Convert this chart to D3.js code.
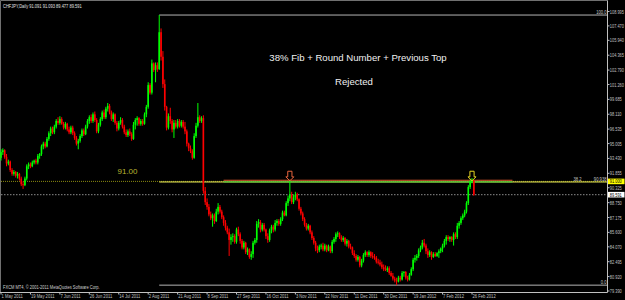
<!DOCTYPE html>
<html>
<head>
<meta charset="utf-8">
<script src="https://cdn.jsdelivr.net/npm/d3@7"></script>
<style>
  html, body { margin: 0; padding: 0; background: #000; }
  svg { display: block; }
  text { font-family: "Liberation Sans", Arial, sans-serif; }
</style>
</head>
<body>
<svg id="chart" width="625" height="300"></svg>
<script>
// CHFJPY daily, May 2011 - Feb 2012 (MT4 screenshot remake)

// ---- data -------------------------------------------------------------------
// one value per daily bar, bar 0 = 1 May 2011, last bar = 27 Feb 2012
const open = [
  93.5, 94.1, 94.3, 93.6, 92.9, 93.1, 92.2, 91.8, 92.0, 91.6,
  91.8, 91.3, 90.7, 90.6, 91.3, 92.6, 92.8, 92.6, 93.0, 93.2,
  93.0, 93.7, 93.9, 94.7, 95.0, 94.7, 95.5, 96.1, 96.6, 96.2,
  96.8, 97.4, 97.2, 97.6, 97.1, 96.7, 97.1, 96.5, 96.2, 96.7,
  96.1, 95.6, 95.0, 95.3, 95.8, 96.4, 96.0, 96.8, 97.4, 97.8,
  97.4, 98.1, 97.5, 96.3, 97.0, 97.6, 98.3, 97.8, 98.7, 99.0,
  98.3, 97.6, 98.1, 97.2, 96.6, 97.2, 97.5, 96.8, 96.2, 95.9,
  96.3, 96.0, 95.5, 97.0, 97.5, 97.7, 97.1, 97.4, 97.1, 98.1,
  98.9, 101.2, 100.4, 103.5, 102.8, 103.3, 102.9, 106.8, 104.2, 101.3,
  98.9, 96.7, 97.9, 97.4, 96.5, 97.2, 96.8, 97.4, 96.9, 97.3,
  96.8, 96.3, 95.0, 94.5, 94.2, 93.5, 95.8, 96.9, 97.8, 97.4,
  97.7, 90.0, 88.8, 88.3, 87.5, 87.1, 87.4, 86.8, 87.8, 88.3,
  87.8, 87.2, 86.6, 86.1, 85.6, 84.8, 85.1, 85.2, 84.6, 85.9,
  85.4, 84.7, 84.0, 84.5, 83.5, 83.8, 83.0, 83.3, 84.5, 84.8,
  86.5, 86.7, 85.9, 86.4, 85.9, 85.2, 84.8, 85.8, 86.2, 85.9,
  86.6, 86.8, 86.5, 87.0, 87.7, 87.4, 88.7, 89.2, 89.6, 88.8,
  89.3, 89.6, 89.1, 88.1, 87.6, 87.0, 86.4, 86.0, 86.3, 85.6,
  85.0, 84.5, 83.9, 83.7, 84.1, 84.2, 83.8, 84.2, 83.7, 84.1,
  83.6, 84.6, 84.9, 85.4, 85.5, 85.1, 84.8, 85.0, 84.4, 84.7,
  84.1, 84.0, 83.4, 83.1, 82.7, 83.0, 82.1, 82.6, 83.2, 83.5,
  83.2, 83.5, 83.1, 83.0, 82.9, 82.5, 82.4, 82.2, 81.9, 81.7,
  81.6, 81.8, 81.3, 81.0, 80.7, 80.5, 80.4, 80.8, 80.6, 81.3,
  81.4, 80.8, 80.6, 81.1, 81.7, 82.7, 82.9, 83.1, 83.7, 84.0,
  84.5, 84.2, 83.6, 83.2, 83.5, 83.0, 83.3, 83.1, 83.4, 83.6,
  83.9, 84.2, 84.7, 85.1, 84.9, 85.1, 84.8, 85.4, 85.1, 86.3,
  86.6, 87.1, 87.4, 87.8, 88.7, 90.4, 91.0, 91.091
];
const high = [
  94.4, 94.5, 94.4, 93.9, 93.3, 93.2, 92.4, 92.2, 92.1, 92.0,
  91.9, 91.5, 91.0, 91.5, 92.8, 93.0, 93.0, 93.2, 93.3, 93.4,
  93.9, 94.0, 94.9, 95.2, 95.2, 95.7, 96.3, 96.8, 96.8, 97.0,
  97.6, 97.8, 97.9, 97.8, 97.3, 97.3, 97.2, 96.8, 96.9, 96.9,
  96.3, 95.8, 95.5, 96.0, 96.6, 96.6, 97.0, 97.6, 98.0, 98.1,
  98.3, 98.4, 97.7, 97.2, 97.8, 98.5, 98.6, 98.9, 99.3, 99.2,
  98.5, 98.3, 98.2, 97.4, 97.4, 97.8, 97.7, 97.0, 96.5, 96.5,
  96.6, 96.2, 97.3, 97.7, 97.9, 97.8, 97.6, 97.6, 98.3, 99.1,
  101.5, 101.4, 103.9, 103.6, 103.6, 103.6, 108.62, 107.2, 104.8, 101.8,
  99.0, 98.2, 98.8, 97.6, 97.5, 97.5, 97.6, 97.6, 97.5, 97.5,
  97.3, 96.5, 95.1, 94.8, 94.4, 96.1, 97.2, 99.3, 98.0, 97.9,
  98.0, 90.4, 89.2, 88.6, 87.8, 87.6, 87.6, 88.1, 88.7, 88.5,
  88.0, 87.4, 86.9, 86.3, 86.0, 85.4, 85.5, 85.4, 86.1, 86.2,
  85.6, 84.9, 84.7, 84.6, 84.0, 83.9, 83.6, 84.7, 85.0, 86.8,
  87.0, 86.9, 86.6, 86.6, 86.0, 85.5, 86.0, 86.4, 86.4, 86.9,
  87.0, 87.0, 87.2, 87.9, 87.9, 88.9, 89.5, 91.15, 89.9, 89.6,
  89.9, 89.8, 89.2, 88.3, 87.8, 87.2, 86.6, 86.5, 86.4, 85.8,
  85.2, 84.7, 84.2, 84.3, 84.4, 84.5, 84.4, 84.3, 84.3, 84.2,
  84.8, 85.1, 85.6, 85.7, 85.6, 85.3, 85.2, 85.1, 84.9, 84.8,
  84.4, 84.1, 83.7, 83.3, 83.2, 83.1, 82.8, 83.4, 83.7, 83.6,
  83.7, 83.6, 83.5, 83.3, 83.1, 82.8, 82.7, 82.5, 82.2, 82.1,
  82.0, 82.0, 81.5, 81.3, 80.9, 80.8, 81.0, 81.0, 81.5, 81.5,
  81.5, 81.0, 81.3, 81.9, 82.9, 83.2, 83.3, 83.9, 84.2, 84.8,
  84.9, 84.4, 83.9, 83.7, 83.6, 83.5, 83.5, 83.5, 83.8, 84.0,
  84.4, 84.9, 85.3, 85.3, 85.2, 85.2, 85.6, 85.6, 86.6, 86.8,
  87.3, 87.6, 88.0, 88.9, 90.6, 91.2, 91.35, 91.093
];
const low = [
  93.2, 93.8, 93.4, 92.6, 92.7, 92.0, 91.6, 91.6, 91.4, 91.3,
  91.1, 90.5, 90.2, 90.5, 91.1, 92.3, 92.4, 92.5, 92.8, 92.8,
  92.8, 93.4, 93.7, 94.4, 94.5, 94.6, 95.3, 95.8, 96.0, 96.0,
  96.6, 97.0, 97.0, 97.0, 96.5, 96.5, 96.3, 96.0, 96.0, 95.9,
  95.4, 94.8, 94.4, 95.1, 95.6, 95.8, 95.9, 96.6, 97.1, 97.2,
  97.2, 97.3, 96.1, 96.1, 96.8, 97.4, 97.6, 97.6, 98.4, 98.1,
  97.4, 97.3, 97.0, 96.3, 96.4, 97.0, 96.6, 96.0, 95.7, 95.7,
  95.8, 95.3, 95.4, 96.5, 96.9, 96.9, 96.9, 96.9, 97.0, 97.8,
  98.7, 100.2, 100.2, 102.6, 101.5, 102.6, 102.8, 103.8, 100.9, 98.5,
  96.4, 96.5, 97.1, 96.2, 95.6, 96.6, 96.6, 96.7, 96.7, 96.6,
  96.0, 94.7, 94.2, 94.0, 93.3, 93.4, 95.6, 96.7, 97.2, 97.2,
  89.7, 88.5, 88.0, 87.3, 86.9, 86.2, 86.5, 86.7, 87.5, 87.6,
  87.0, 86.3, 85.8, 85.4, 83.1, 84.3, 84.6, 84.4, 84.4, 85.2,
  84.4, 83.8, 83.8, 83.3, 83.2, 82.8, 82.7, 82.9, 84.3, 84.5,
  86.1, 85.6, 85.7, 85.7, 84.9, 84.5, 84.6, 85.5, 85.6, 85.7,
  86.3, 86.3, 86.3, 86.8, 87.3, 87.3, 88.4, 88.9, 88.6, 88.6,
  89.0, 88.9, 87.9, 87.4, 86.8, 86.2, 85.8, 85.8, 85.4, 84.8,
  84.3, 83.6, 83.4, 83.5, 83.8, 83.6, 83.6, 83.5, 83.6, 83.4,
  83.4, 84.4, 84.6, 85.1, 84.9, 84.6, 84.6, 84.2, 84.1, 83.9,
  83.8, 83.2, 82.9, 82.5, 82.5, 81.9, 81.9, 82.4, 83.0, 83.0,
  83.0, 82.9, 82.8, 82.7, 82.3, 82.2, 82.0, 81.7, 81.5, 81.5,
  81.4, 81.1, 80.9, 80.5, 80.3, 80.01, 80.3, 80.4, 80.5, 80.9,
  80.6, 80.4, 80.5, 81.0, 81.5, 82.4, 82.6, 82.9, 83.5, 83.8,
  84.0, 83.3, 82.9, 83.0, 82.7, 82.9, 83.0, 83.0, 82.9, 83.4,
  83.5, 84.0, 84.3, 84.7, 84.6, 84.6, 84.2, 84.9, 84.9, 86.0,
  86.4, 86.9, 87.2, 87.6, 88.5, 90.2, 90.8, 89.477
];
const close = [
  94.1, 94.3, 93.6, 92.9, 93.1, 92.2, 91.8, 92.0, 91.6, 91.8,
  91.3, 90.7, 90.6, 91.3, 92.6, 92.8, 92.6, 93.0, 93.2, 93.0,
  93.7, 93.9, 94.7, 95.0, 94.7, 95.5, 96.1, 96.6, 96.2, 96.8,
  97.4, 97.2, 97.6, 97.1, 96.7, 97.1, 96.5, 96.2, 96.7, 96.1,
  95.6, 95.0, 95.3, 95.8, 96.4, 96.0, 96.8, 97.4, 97.8, 97.4,
  98.1, 97.5, 96.3, 97.0, 97.6, 98.3, 97.8, 98.7, 99.0, 98.3,
  97.6, 98.1, 97.2, 96.6, 97.2, 97.5, 96.8, 96.2, 95.9, 96.3,
  96.0, 95.5, 97.0, 97.5, 97.7, 97.1, 97.4, 97.1, 98.1, 98.9,
  101.2, 100.4, 103.5, 102.8, 103.3, 102.9, 106.8, 104.2, 101.3, 98.9,
  96.7, 97.9, 97.4, 96.5, 97.2, 96.8, 97.4, 96.9, 97.3, 96.8,
  96.3, 95.0, 94.5, 94.2, 93.5, 95.8, 96.9, 97.8, 97.4, 97.7,
  90.0, 88.8, 88.3, 87.5, 87.1, 87.4, 86.8, 87.8, 88.3, 87.8,
  87.2, 86.6, 86.1, 85.6, 84.8, 85.1, 85.2, 84.6, 85.9, 85.4,
  84.7, 84.0, 84.5, 83.5, 83.8, 83.0, 83.3, 84.5, 84.8, 86.5,
  86.7, 85.9, 86.4, 85.9, 85.2, 84.8, 85.8, 86.2, 85.9, 86.6,
  86.8, 86.5, 87.0, 87.7, 87.4, 88.7, 89.2, 89.6, 88.8, 89.3,
  89.6, 89.1, 88.1, 87.6, 87.0, 86.4, 86.0, 86.3, 85.6, 85.0,
  84.5, 83.9, 83.7, 84.1, 84.2, 83.8, 84.2, 83.7, 84.1, 83.6,
  84.6, 84.9, 85.4, 85.5, 85.1, 84.8, 85.0, 84.4, 84.7, 84.1,
  84.0, 83.4, 83.1, 82.7, 83.0, 82.1, 82.6, 83.2, 83.5, 83.2,
  83.5, 83.1, 83.0, 82.9, 82.5, 82.4, 82.2, 81.9, 81.7, 81.6,
  81.8, 81.3, 81.0, 80.7, 80.5, 80.4, 80.8, 80.6, 81.3, 81.4,
  80.8, 80.6, 81.1, 81.7, 82.7, 82.9, 83.1, 83.7, 84.0, 84.5,
  84.2, 83.6, 83.2, 83.5, 83.0, 83.3, 83.1, 83.4, 83.6, 83.9,
  84.2, 84.7, 85.1, 84.9, 85.1, 84.8, 85.4, 85.1, 86.3, 86.6,
  87.1, 87.4, 87.8, 88.7, 90.4, 91.0, 91.09, 89.591
];

// date labels, one every 16 bars
const dateLabels = [
  "1 May 2011", "19 May 2011", "7 Jun 2011", "26 Jun 2011", "14 Jul 2011",
  "2 Aug 2011", "21 Aug 2011", "8 Sep 2011", "27 Sep 2011", "16 Oct 2011",
  "3 Nov 2011", "22 Nov 2011", "11 Dec 2011", "30 Dec 2011", "19 Jan 2012",
  "7 Feb 2012", "26 Feb 2012"
];
const dateStep = 16;

const priceTicks = [
  108.995, 107.470, 105.940, 104.365, 102.790, 101.260, 99.685, 98.110, 96.535, 95.005,
  93.430, 91.855, 90.325, 88.750, 87.175, 85.600, 84.070, 82.495, 80.920, 79.390
];

const title = "CHFJPY,Daily  91.091 91.093 89.477 89.591";
const copyright = "FXCM MT4, \u00a9 2001-2011 MetaQuotes Software Corp.";

// drawn objects
const roundNumber = 91.00;
const bid = 89.591;
const fibFromBar = 86;
const fibLevels = [
  { level: 100, price: 108.62, label: "100.0", value: "" },
  { level: 38.2, price: 90.938, label: "38.2", value: "90.938" },
  { level: 0, price: 80.01, label: "0.0", value: "" }
];
const topLines = [
  { price: 91.12, from: 121, to: 278, color: "#e2592f" },
  { price: 90.95, from: 121, to: 278, color: "#4cc43a" }
];
const arrows = [
  { bar: 157, price: 91.08, color: "#e8653e" },
  { bar: 256, price: 91.08, color: "#e6d522" }
];
const notes = ["38% Fib + Round Number + Previous Top", "Rejected"];

// ---- layout -----------------------------------------------------------------
const W = 625, H = 300;
const plotRight = 607.5, plotBottom = 292.5;
const UP = "#00ff00", DOWN = "#ff0000", AXIS = "#c0c0c0";

const svg = d3.select("#chart");
svg.append("rect").attr("width", W).attr("height", H).attr("fill", "#000");

const x = d3.scaleLinear().domain([0, 256]).range([1, 472]);
const y = d3.scaleLinear().domain([79.39, 108.995]).range([291, 11.5]);

// MT4 text is narrow: move x/y into a transform and squeeze horizontally
function squeeze(sel, k) {
  sel.each(function () {
    const t = d3.select(this);
    const tx = +t.attr("x"), ty = +t.attr("y");
    t.attr("x", 0).attr("y", 0)
      .attr("transform", `translate(${tx},${ty}) scale(${k},1)`);
  });
}

// frame
svg.append("path")
  .attr("d", `M0.5,${plotBottom}V0.5H${plotRight}`)
  .attr("fill", "none").attr("stroke", "#707070").attr("stroke-width", 1);

// round-number line (dotted olive) and bid line (dotted grey)
svg.append("line")
  .attr("x1", 1).attr("x2", plotRight)
  .attr("y1", y(roundNumber)).attr("y2", y(roundNumber))
  .attr("stroke", "#8a8a10").attr("stroke-width", 1).attr("stroke-dasharray", "1,1");
svg.append("line")
  .attr("x1", 1).attr("x2", plotRight)
  .attr("y1", y(bid)).attr("y2", y(bid))
  .attr("stroke", "#8c8c8c").attr("stroke-width", 1).attr("stroke-dasharray", "1.5,1.5");

// fibonacci levels
const fib = svg.append("g");
fib.selectAll("line").data(fibLevels).join("line")
  .attr("x1", x(fibFromBar)).attr("x2", plotRight)
  .attr("y1", d => y(d.price)).attr("y2", d => y(d.price))
  .attr("stroke", d => d.level === 38.2 ? "#f2f25a" : "#b4b4b4")
  .attr("stroke-width", 1);

// the two horizontal marker lines at the previous top
svg.append("g").selectAll("line").data(topLines).join("line")
  .attr("x1", d => x(d.from)).attr("x2", d => x(d.to))
  .attr("y1", d => y(d.price)).attr("y2", d => y(d.price))
  .attr("stroke", d => d.color).attr("stroke-width", 1.2);

// candles
const bars = d3.range(close.length).map(i => ({
  i, o: open[i], h: high[i], l: low[i], c: close[i]
}));
const cg = svg.append("g");
cg.selectAll("line").data(bars).join("line")
  .attr("x1", d => x(d.i)).attr("x2", d => x(d.i))
  .attr("y1", d => y(d.h)).attr("y2", d => y(d.l))
  .attr("stroke", d => d.c >= d.o ? UP : DOWN)
  .attr("stroke-width", 1);
cg.selectAll("rect").data(bars).join("rect")
  .attr("x", d => x(d.i) - 0.8)
  .attr("width", 1.6)
  .attr("y", d => y(Math.max(d.o, d.c)))
  .attr("height", d => Math.max(1, Math.abs(y(d.o) - y(d.c))))
  .attr("fill", d => d.c >= d.o ? UP : DOWN);

// hollow down arrows
svg.append("g").selectAll("path").data(arrows).join("path")
  .attr("d", d => {
    const cx = x(d.bar), yb = y(d.price) + 0.2;
    const yh = yb - 4, yt = yb - 9.6;
    return `M${cx - 2.1},${yt}H${cx + 2.1}V${yh}H${cx + 4}L${cx},${yb}L${cx - 4},${yh}H${cx - 2.1}Z`;
  })
  .attr("fill", "none")
  .attr("stroke", d => d.color)
  .attr("stroke-width", 1);

// fib labels
const fl = svg.append("g").attr("font-size", 5.6).attr("fill", "#c8c8c8");
fl.selectAll("text.val").data(fibLevels.filter(d => d.value)).join("text")
  .attr("class", "val")
  .attr("x", plotRight - 1).attr("y", d => y(d.price) - 1.3)
  .attr("text-anchor", "end").text(d => d.value).call(squeeze, 0.74);
fl.selectAll("text.lab").data(fibLevels).join("text")
  .attr("class", "lab")
  .attr("x", d => d.value ? plotRight - 26 : plotRight - 1)
  .attr("y", d => y(d.price) - 1.3)
  .attr("text-anchor", "end").text(d => d.label).call(squeeze, 0.74);

// "91.00" round-number label
svg.append("text")
  .attr("x", 117.5).attr("y", y(roundNumber) - 7.5)
  .attr("font-size", 8).attr("fill", "#b9b431")
  .text(d3.format(".2f")(roundNumber));

// annotation
svg.append("g").selectAll("text").data(notes).join("text")
  .attr("x", (d, i) => i === 0 ? 358 : 354)
  .attr("y", (d, i) => i === 0 ? 60.5 : 85)
  .attr("text-anchor", "middle")
  .attr("font-size", 9.6)
  .attr("fill", "#f0f0f0")
  .text(d => d);

// price axis
const pa = svg.append("g");
pa.append("line")
  .attr("x1", plotRight).attr("x2", plotRight).attr("y1", 0.5).attr("y2", plotBottom)
  .attr("stroke", AXIS).attr("stroke-width", 1);
pa.selectAll("line.tick").data(priceTicks).join("line")
  .attr("class", "tick")
  .attr("x1", plotRight).attr("x2", plotRight + 2)
  .attr("y1", d => y(d)).attr("y2", d => y(d))
  .attr("stroke", AXIS);
pa.selectAll("text").data(priceTicks).join("text")
  .attr("x", plotRight + 2.3).attr("y", d => y(d) + 2)
  .attr("font-size", 5.6).attr("fill", AXIS)
  .text(d => d3.format(".3f")(d))
  .call(squeeze, 0.7);

// highlighted price boxes: round number (yellow) and bid (white)
const marks = [
  { price: roundNumber, bg: "#ffff00" },
  { price: bid, bg: "#ffffff" }
];
const mk = svg.append("g").selectAll("g").data(marks).join("g");
mk.append("rect")
  .attr("x", plotRight + 0.5).attr("width", 16.5)
  .attr("y", d => y(d.price) - 2.8).attr("height", 5.6)
  .attr("fill", d => d.bg);
mk.append("text")
  .attr("x", plotRight + 2.3).attr("y", d => y(d.price) + 2)
  .attr("font-size", 5.6).attr("fill", "#000")
  .text(d => d3.format(".3f")(d.price))
  .call(squeeze, 0.7);

// time axis
const ta = svg.append("g");
ta.append("line")
  .attr("x1", 0).attr("x2", plotRight).attr("y1", plotBottom).attr("y2", plotBottom)
  .attr("stroke", AXIS);
ta.selectAll("line.tick").data(dateLabels).join("line")
  .attr("class", "tick")
  .attr("x1", (d, i) => x(i * dateStep)).attr("x2", (d, i) => x(i * dateStep))
  .attr("y1", plotBottom).attr("y2", plotBottom + 2)
  .attr("stroke", AXIS);
ta.selectAll("text").data(dateLabels).join("text")
  .attr("x", (d, i) => x(i * dateStep) + 0.5).attr("y", 298.4)
  .attr("font-size", 5.6).attr("fill", AXIS)
  .text(d => d)
  .call(squeeze, 0.74);

// header and footer text
svg.append("text")
  .attr("x", 3).attr("y", 8.3).attr("font-size", 5.6).attr("fill", "#e0e0e0")
  .text(title).call(squeeze, 0.72);
svg.append("text")
  .attr("x", 3).attr("y", 289).attr("font-size", 5.6).attr("fill", "#d0d0d0")
  .text(copyright).call(squeeze, 0.72);
</script>
</body>
</html>
